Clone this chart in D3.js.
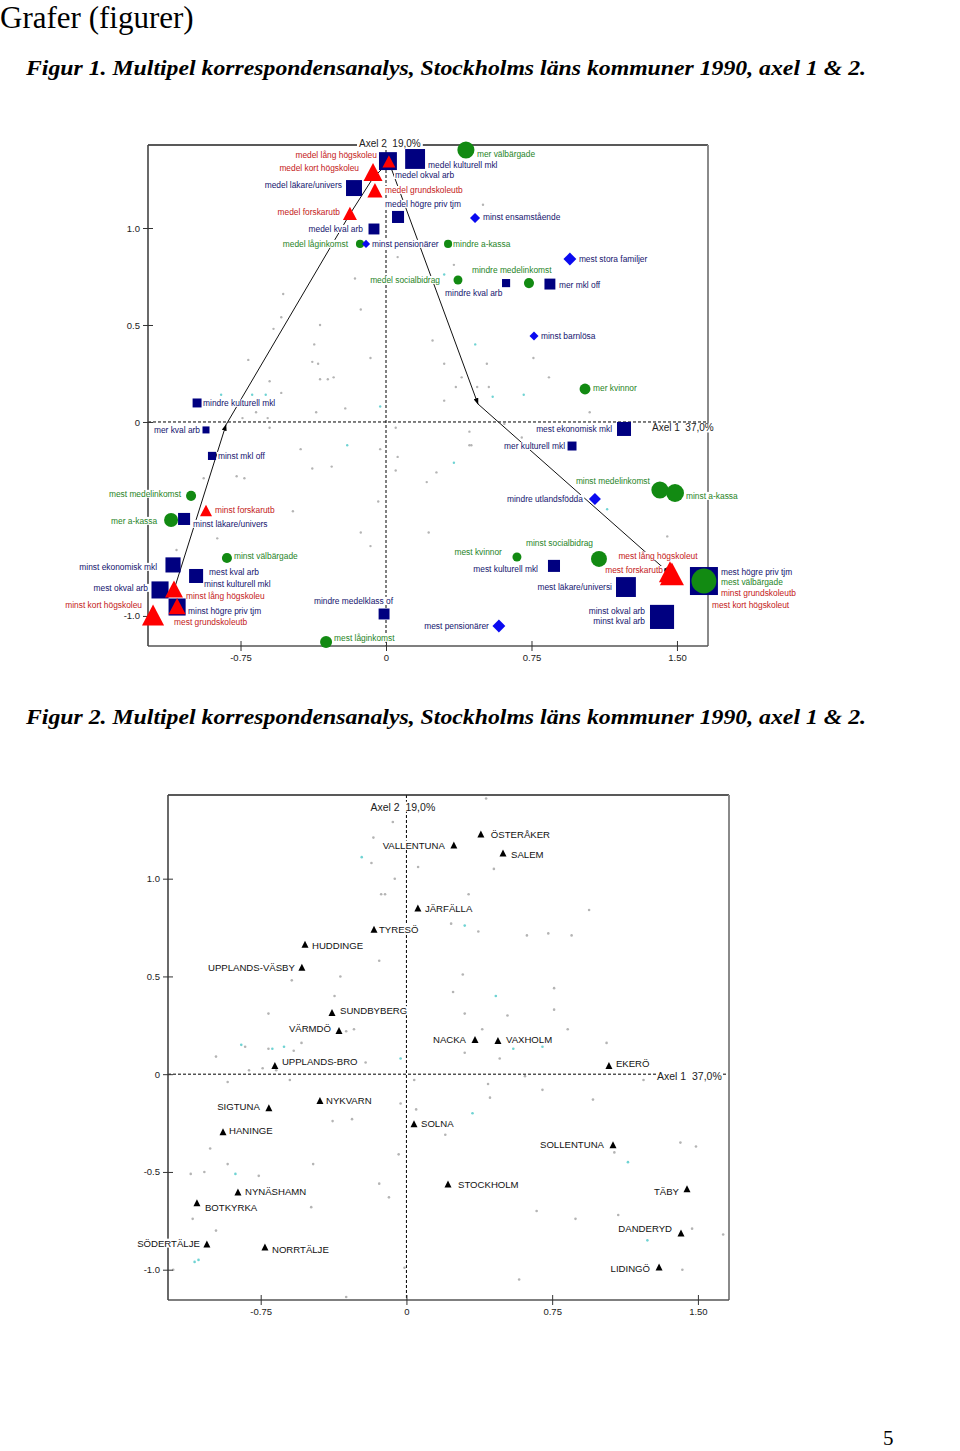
<!DOCTYPE html>
<html><head><meta charset="utf-8">
<script src="https://cdn.jsdelivr.net/npm/d3@7"></script>
<style>body{margin:0;background:#fff}svg{display:block}</style>
</head><body>
<svg id="page" width="960" height="1451"></svg>
<script>
// ---------------- DATA ----------------
const pageTitle = "Grafer (figurer)";
const captions = [
  "Figur 1. Multipel korrespondensanalys, Stockholms läns kommuner 1990, axel 1 & 2.",
  "Figur 2. Multipel korrespondensanalys, Stockholms läns kommuner 1990, axel 1 & 2."
];
const pageNumber = "5";
const axisNames = ["Axel 1  37,0%", "Axel 2  19,0%"];

const xTicks = [-0.75, 0, 0.75, 1.5];
const xTickLabels = ["-0.75", "0", "0.75", "1.50"];
const fig1YTicks = [1.0, 0.5, 0, -0.5, -1.0];
const fig1YTickLabels = ["1.0", "0.5", "0", "", "-1.0"];
const fig2YTicks = [1.0, 0.5, 0, -0.5, -1.0];
const fig2YTickLabels = ["1.0", "0.5", "0", "-0.5", "-1.0"];

// Figure 1: modalities (axis-1 coord, axis-2 coord, relative mass)
const fig1Squares = [
  {label:"medel okval arb", x:0.01, y:1.345, mass:0.64},
  {label:"medel kulturell mkl", x:0.15, y:1.356, mass:0.71},
  {label:"medel läkare/univers", x:-0.165, y:1.206, mass:0.57},
  {label:"medel högre priv tjm", x:0.062, y:1.057, mass:0.43},
  {label:"medel kval arb", x:-0.062, y:0.995, mass:0.39},
  {label:"mindre kval arb", x:0.619, y:0.716, mass:0.29},
  {label:"mer mkl off", x:0.845, y:0.711, mass:0.39},
  {label:"mindre kulturell mkl", x:-0.974, y:0.098, mass:0.32},
  {label:"mer kval arb", x:-0.928, y:-0.041, mass:0.25},
  {label:"mest ekonomisk mkl", x:1.227, y:-0.036, mass:0.5},
  {label:"mer kulturell mkl", x:0.959, y:-0.124, mass:0.32},
  {label:"minst mkl off", x:-0.897, y:-0.175, mass:0.29},
  {label:"minst läkare/univers", x:-1.041, y:-0.5, mass:0.43},
  {label:"minst ekonomisk mkl", x:-1.098, y:-0.737, mass:0.54},
  {label:"minst kulturell mkl", x:-0.979, y:-0.794, mass:0.46},
  {label:"mest kval arb", x:-0.979, y:-0.794, mass:0.5},
  {label:"mest okval arb", x:-1.165, y:-0.866, mass:0.61},
  {label:"minst högre priv tjm", x:-1.077, y:-0.954, mass:0.61},
  {label:"mindre medelklass of", x:-0.01, y:-0.99, mass:0.39},
  {label:"mest kulturell mkl", x:0.866, y:-0.742, mass:0.43},
  {label:"mest läkare/universi", x:1.237, y:-0.851, mass:0.71},
  {label:"minst okval arb", x:1.423, y:-1.005, mass:0.86},
  {label:"minst kval arb", x:1.423, y:-1.005, mass:0.82},
  {label:"mest högre priv tjm", x:1.639, y:-0.82, mass:1.0}
];
const fig1Triangles = [
  {label:"minst grundskoleutb", x:1.639, y:-0.825, mass:1.0},
  {label:"mest kort högskoleut", x:1.639, y:-0.825, mass:0.93},
  {label:"medel lång högskoleu", x:0.015, y:1.34, mass:0.46},
  {label:"medel kort högskoleu", x:-0.067, y:1.284, mass:0.68},
  {label:"medel grundskoleutb", x:-0.057, y:1.191, mass:0.54},
  {label:"medel forskarutb", x:-0.186, y:1.072, mass:0.5},
  {label:"minst forskarutb", x:-0.928, y:-0.459, mass:0.43},
  {label:"minst lång högskoleu", x:-1.093, y:-0.866, mass:0.64},
  {label:"mest grundskoleutb", x:-1.077, y:-0.954, mass:0.61},
  {label:"minst kort högskoleu", x:-1.201, y:-1.0, mass:0.79},
  {label:"mest lång högskoleut", x:1.464, y:-0.778, mass:0.79},
  {label:"mest forskarutb", x:1.474, y:-0.789, mass:0.86}
];
const fig1Circles = [
  {label:"medel låginkomst", x:-0.134, y:0.918, mass:0.29},
  {label:"mer välbärgade", x:0.412, y:1.402, mass:0.61},
  {label:"mindre a-kassa", x:0.32, y:0.918, mass:0.29},
  {label:"mindre medelinkomst", x:0.737, y:0.716, mass:0.36},
  {label:"medel socialbidrag", x:0.371, y:0.732, mass:0.32},
  {label:"mer kvinnor", x:1.026, y:0.17, mass:0.39},
  {label:"mest medelinkomst", x:-1.005, y:-0.381, mass:0.36},
  {label:"mer a-kassa", x:-1.108, y:-0.505, mass:0.5},
  {label:"minst välbärgade", x:-0.82, y:-0.701, mass:0.36},
  {label:"mest låginkomst", x:-0.309, y:-1.134, mass:0.43},
  {label:"mest kvinnor", x:0.675, y:-0.696, mass:0.32},
  {label:"minst medelinkomst", x:1.412, y:-0.351, mass:0.61},
  {label:"minst a-kassa", x:1.49, y:-0.366, mass:0.64},
  {label:"minst socialbidrag", x:1.098, y:-0.706, mass:0.57},
  {label:"mest välbärgade", x:1.639, y:-0.82, mass:0.89}
];
const fig1Diamonds = [
  {label:"minst pensionärer", x:-0.103, y:0.918, mass:0.29},
  {label:"minst ensamstående", x:0.459, y:1.052, mass:0.36},
  {label:"mest stora familjer", x:0.948, y:0.84, mass:0.46},
  {label:"minst barnlösa", x:0.763, y:0.443, mass:0.32},
  {label:"mindre utlandsfödda", x:1.077, y:-0.397, mass:0.43},
  {label:"mest pensionärer", x:0.582, y:-1.052, mass:0.46}
];
// trajectories (education), each segment ends in an arrow
const fig1TrajectoryLeft = [[-1.093,-0.866],[-0.825,-0.015],[-0.186,1.072],[-0.067,1.258],[0.015,1.34]];
const fig1TrajectoryRight = [[0.015,1.34],[0.474,0.093],[1.459,-0.778]];
const fig1ArrowAt = [[1],[4],[1],[2]]; // vertex indices carrying arrow heads

// Figure 1: supplementary (municipality) points
const fig1GrayDots = [[0.06,0.85],[0.35,0.81],[-0.16,0.74],[-0.53,0.66],[-0.13,0.58],[-0.54,0.54],[-0.34,0.50],
  [-0.58,0.48],[0.24,0.42],[-0.37,0.40],[-0.08,0.33],[0.30,0.30],[0.52,0.30],[-0.71,0.32],[-0.38,0.31],[-0.35,0.30],
  [0.39,0.23],[-0.30,0.22],[-0.34,0.22],[-0.27,0.23],[-0.60,0.21],[0.30,0.11],[0.36,0.18],[0.47,0.18],[0.53,0.18],
  [-0.54,0.15],[-0.67,0.05],[-0.36,0.05],[-0.61,0.02],[-0.74,0.02],[-0.21,0.07],[0.05,-0.03],[-0.60,-0.03],
  [0.43,-0.05],[0.43,-0.12],[-0.44,-0.14],[0.76,0.33],[0.84,0.23],[1.05,0.05],[0.61,-0.01],[0.70,-0.08],
  [-0.03,-0.14],[0.06,-0.18],[0.44,-0.12],[-0.38,-0.24],[-0.28,-0.23],[0.05,-0.25],[0.26,-0.26],[-0.94,-0.29],
  [-0.77,-0.28],[-0.73,-0.29],[0.21,-0.31],[-0.04,-0.41],[-0.48,-0.46],[-0.13,-0.57],[0.22,-0.57],[-0.87,-0.60],
  [-0.08,-0.64],[-1.08,-0.66],[1.45,-0.59],[0.50,1.12]];
const fig1CyanDots = [[0.30,0.76],[0.46,0.40],[0.55,0.13],[-0.85,0.14],[-0.69,0.14],[-0.62,0.14],[-0.03,0.08],
  [-0.20,-0.12],[0.71,0.14],[0.35,-0.21],[1.14,-0.45]];

// Figure 2: municipalities (axis-1, axis-2)
const fig2Munis = [
  {name:"VALLENTUNA", x:0.244, y:1.171},
  {name:"ÖSTERÅKER", x:0.383, y:1.227},
  {name:"SALEM", x:0.497, y:1.130},
  {name:"JÄRFÄLLA", x:0.059, y:0.848},
  {name:"TYRESÖ", x:-0.167, y:0.740},
  {name:"HUDDINGE", x:-0.522, y:0.663},
  {name:"UPPLANDS-VÄSBY", x:-0.538, y:0.545},
  {name:"SUNDBYBERG", x:-0.383, y:0.314},
  {name:"VÄRMDÖ", x:-0.347, y:0.222},
  {name:"UPPLANDS-BRO", x:-0.677, y:0.043},
  {name:"NACKA", x:0.353, y:0.176},
  {name:"VAXHOLM", x:0.471, y:0.171},
  {name:"EKERÖ", x:1.042, y:0.043},
  {name:"SIGTUNA", x:-0.708, y:-0.173},
  {name:"NYKVARN", x:-0.445, y:-0.137},
  {name:"HANINGE", x:-0.944, y:-0.296},
  {name:"SOLNA", x:0.039, y:-0.255},
  {name:"SOLLENTUNA", x:1.063, y:-0.363},
  {name:"STOCKHOLM", x:0.214, y:-0.563},
  {name:"NYNÄSHAMN", x:-0.867, y:-0.604},
  {name:"BOTKYRKA", x:-1.078, y:-0.660},
  {name:"TÄBY", x:1.444, y:-0.588},
  {name:"DANDERYD", x:1.413, y:-0.814},
  {name:"SÖDERTÄLJE", x:-1.027, y:-0.870},
  {name:"NORRTÄLJE", x:-0.728, y:-0.886},
  {name:"LIDINGÖ", x:1.300, y:-0.988}
];
const fig2GrayDots = [[-0.07,1.29],[-0.17,1.21],[-0.18,1.08],[0.06,1.06],[-0.06,1.00],[-0.13,0.92],[-0.11,0.92],
  [-0.14,0.58],[-0.34,0.50],[-0.59,0.48],[0.41,1.41],[0.45,1.05],[0.32,0.92],[0.94,0.84],[0.23,0.77],[0.37,0.73],
  [0.62,0.71],[0.73,0.72],[0.85,0.71],[0.29,0.51],[-0.37,0.40],[-0.71,0.31],[-0.83,0.14],[-0.71,0.13],[-0.58,0.12],
  [-0.54,0.16],[-0.98,0.09],[-0.31,0.22],[-0.27,0.23],[-0.21,0.06],[-0.81,0.02],[-0.74,0.03],[-0.67,0.02],
  [-0.60,-0.03],[-0.92,-0.04],[-0.03,-0.15],[0.05,-0.18],[-0.38,-0.24],[-0.28,-0.23],[0.20,-0.31],[-1.01,-0.38],
  [-0.92,-0.46],[-1.11,-0.51],[-1.04,-0.50],[-0.76,-0.52],[-0.48,-0.46],[-0.04,-0.41],[-0.14,-0.56],[-0.09,-0.63],
  [-0.49,-0.68],[-1.10,-0.74],[-0.98,-0.80],[-1.20,-1.00],[-0.01,-0.99],[-0.31,-1.14],[0.24,0.42],[0.76,0.44],
  [0.30,0.31],[0.52,0.30],[0.76,0.33],[0.39,0.23],[0.83,0.23],[1.03,0.16],[0.30,0.11],[0.48,0.08],[0.61,-0.01],
  [1.22,-0.03],[0.04,-0.03],[0.42,-0.05],[0.70,-0.08],[0.43,-0.12],[0.96,-0.13],[1.07,-0.40],[1.41,-0.35],
  [1.49,-0.37],[0.67,-0.70],[0.87,-0.74],[1.09,-0.72],[1.47,-0.79],[1.63,-0.82],[1.42,-1.00],[0.58,-1.05]];
const fig2CyanDots = [[-0.23,1.11],[0.30,0.76],[-0.85,0.15],[-0.69,0.13],[-0.63,0.14],[-0.03,0.08],[-0.88,-0.51],
  [-1.09,-0.96],[-1.07,-0.95],[0.46,0.40],[0.55,0.13],[0.70,0.14],[0.34,-0.20],[1.14,-0.45],[1.24,-0.85]];

// ---------------- LAYOUT (label offsets in px: dx, dy, anchor) ----------------
const fig1LabelPos = {
  "medel okval arb":[7,14,"start"], "medel kulturell mkl":[13,6,"start"], "medel läkare/univers":[-12,-3,"end"],
  "medel högre priv tjm":[-13,-13,"start"], "medel kval arb":[-11,0,"end"], "mindre kval arb":[-61,10,"start"],
  "mer mkl off":[9,1,"start"], "mindre kulturell mkl":[6,0,"start"], "mer kval arb":[-6,0,"end"],
  "mest ekonomisk mkl":[-12,0,"end"], "mer kulturell mkl":[-7,0,"end"], "minst mkl off":[6,0,"start"],
  "minst läkare/univers":[9,5,"start"], "minst ekonomisk mkl":[-16,2,"end"], "mest kval arb":[13,-4,"start"],
  "minst kulturell mkl":[8,8,"start"], "mest okval arb":[-12,-2,"end"], "minst högre priv tjm":[11,4,"start"],
  "mindre medelklass of":[9,-13,"end"], "mest kulturell mkl":[-16,3,"end"], "mest läkare/universi":[-14,0,"end"],
  "minst okval arb":[-17,-6,"end"], "minst kval arb":[-17,4,"end"], "mest högre priv tjm":[17,-9,"start"],
  "medel lång högskoleu":[-12,-7,"end"], "medel kort högskoleu":[-14,-5,"end"], "medel grundskoleutb":[10,-1,"start"],
  "medel forskarutb":[-10,-2,"end"], "minst forskarutb":[9,-1,"start"], "minst lång högskoleu":[12,6,"start"],
  "mest grundskoleutb":[-3,15,"start"], "minst kort högskoleu":[-11,-11,"end"], "mest forskarutb":[-9,-5,"end"],
  "mest lång högskoleut":[-12,-17,"middle"], "minst grundskoleutb":[17,11,"start"], "mest kort högskoleut":[8,23,"start"],
  "medel låginkomst":[-12,0,"end"], "mer välbärgade":[11,4,"start"], "mindre a-kassa":[5,0,"start"],
  "mindre medelinkomst":[-57,-13,"start"], "medel socialbidrag":[-18,0,"end"], "mer kvinnor":[8,-1,"start"],
  "mest medelinkomst":[-10,-2,"end"], "mer a-kassa":[-14,1,"end"], "minst välbärgade":[7,-2,"start"],
  "mest låginkomst":[8,-4,"start"], "mest kvinnor":[-15,-5,"end"], "minst medelinkomst":[-10,-9,"end"],
  "minst a-kassa":[11,3,"start"], "minst socialbidrag":[-6,-16,"end"], "mest välbärgade":[17,1,"start"],
  "minst pensionärer":[6,0,"start"], "minst ensamstående":[8,-1,"start"], "mest stora familjer":[9,0,"start"],
  "minst barnlösa":[7,0,"start"], "mindre utlandsfödda":[-12,0,"end"], "mest pensionärer":[-10,0,"end"]
};
const fig2LabelPos = {
  "VALLENTUNA":[-9,0,"end"], "ÖSTERÅKER":[10,0,"start"], "SALEM":[8,1,"start"], "JÄRFÄLLA":[7,0,"start"],
  "TYRESÖ":[5,0,"start"], "HUDDINGE":[7,1,"start"], "UPPLANDS-VÄSBY":[-7,0,"end"], "SUNDBYBERG":[8,-2,"start"],
  "VÄRMDÖ":[-8,-2,"end"], "UPPLANDS-BRO":[7,-4,"start"], "NACKA":[-9,0,"end"], "VAXHOLM":[8,-1,"start"],
  "EKERÖ":[7,-2,"start"], "SIGTUNA":[-9,-1,"end"], "NYKVARN":[6,0,"start"], "HANINGE":[6,-1,"start"],
  "SOLNA":[7,0,"start"], "SOLLENTUNA":[-9,-1,"end"], "STOCKHOLM":[10,0,"start"], "NYNÄSHAMN":[7,-1,"start"],
  "BOTKYRKA":[8,4,"start"], "TÄBY":[-8,2,"end"], "DANDERYD":[-9,-5,"end"], "SÖDERTÄLJE":[-7,-1,"end"],
  "NORRTÄLJE":[7,2,"start"], "LIDINGÖ":[-9,1,"end"]
};

// ---------------- DRAWING ----------------
const SANS = "'Liberation Sans', Arial, Helvetica, sans-serif";
const SERIF = "'Liberation Serif', 'Times New Roman', serif";
const svg = d3.select("#page");
const xDomain = [-1.227, 1.66];
const yDomain = [-1.155, 1.428];
const frames = [
  {left:148, right:708, top:145, bottom:646},
  {left:168, right:729, top:795, bottom:1300}
];

svg.append("text").attr("x", 0).attr("y", 28).attr("font-family", SERIF).attr("font-size", 31).text(pageTitle);
[75, 724].forEach((yy, i) => {
  svg.append("text").attr("x", 26).attr("y", yy).attr("font-family", SERIF).attr("font-size", 22)
    .attr("font-weight", "bold").attr("font-style", "italic")
    .attr("textLength", 840).attr("lengthAdjust", "spacingAndGlyphs").text(captions[i]);
});
svg.append("text").attr("x", 883).attr("y", 1445).attr("font-family", SERIF).attr("font-size", 21).text(pageNumber);

const defs = svg.append("defs");
defs.append("marker").attr("id", "arr").attr("viewBox", "0 0 8 6").attr("refX", 7).attr("refY", 3)
  .attr("markerWidth", 7).attr("markerHeight", 5).attr("markerUnits", "userSpaceOnUse").attr("orient", "auto")
  .append("path").attr("d", "M0,0 L8,3 L0,6 Z").attr("fill", "#000");

function makeFigure(frame, yTicks, yTickLabels) {
  const x = d3.scaleLinear().domain(xDomain).range([frame.left, frame.right]);
  const y = d3.scaleLinear().domain(yDomain).range([frame.bottom, frame.top]);
  const g = svg.append("g");
  const layers = {
    dots: g.append("g"), axes: g.append("g"), bg: g.append("g"),
    marks: g.append("g"), text: g.append("g")
  };
  const A = layers.axes;
  A.append("line").attr("x1", x(0)).attr("x2", x(0)).attr("y1", frame.top).attr("y2", frame.bottom)
    .attr("stroke", "#000").attr("stroke-width", 1).attr("stroke-dasharray", "3,2");
  A.append("line").attr("x1", frame.left).attr("x2", frame.right).attr("y1", y(0)).attr("y2", y(0))
    .attr("stroke", "#000").attr("stroke-width", 1).attr("stroke-dasharray", "3,2");
  A.append("line").attr("x1", frame.left).attr("x2", frame.right).attr("y1", frame.top).attr("y2", frame.top)
    .attr("stroke", "#222").attr("stroke-width", 1.3);
  A.append("line").attr("x1", frame.right).attr("x2", frame.right).attr("y1", frame.top).attr("y2", frame.bottom)
    .attr("stroke", "#8a8a8a").attr("stroke-width", 2);
  A.append("line").attr("x1", frame.left).attr("x2", frame.right).attr("y1", frame.bottom).attr("y2", frame.bottom)
    .attr("stroke", "#555").attr("stroke-width", 1.6);
  A.append("line").attr("x1", frame.left).attr("x2", frame.left).attr("y1", frame.top).attr("y2", frame.bottom)
    .attr("stroke", "#444").attr("stroke-width", 1.6);
  const ya = A.append("g").attr("transform", `translate(${frame.left},0)`)
    .call(d3.axisLeft(y).tickValues(yTicks).tickFormat((d, i) => yTickLabels[i]).tickSize(5).tickPadding(3));
  const xa = A.append("g").attr("transform", `translate(0,${frame.bottom})`)
    .call(d3.axisBottom(x).tickValues(xTicks).tickFormat((d, i) => xTickLabels[i]).tickSize(5).tickPadding(3));
  [ya, xa].forEach(a => {
    a.select(".domain").remove();
    a.selectAll("text").attr("font-family", SANS).attr("font-size", 9.5).attr("fill", "#222");
    a.selectAll("line").attr("stroke", "#333");
  });
  ya.selectAll(".tick line").attr("x1", 5);
  xa.selectAll(".tick line").attr("y1", -5);
  ya.selectAll(".tick").filter((d, i) => yTickLabels[i] === "").remove();
  return {x, y, g, layers};
}

function addLabel(fig, text, px, py, pos, color, size, bgPad) {
  const t = fig.layers.text.append("text").attr("x", px + pos[0]).attr("y", py + pos[1]).attr("dy", "0.35em")
    .attr("text-anchor", pos[2]).attr("font-family", SANS).attr("font-size", size).attr("fill", color)
    .style("white-space", "pre").text(text);
  const b = t.node().getBBox();
  fig.layers.bg.append("rect").attr("x", b.x - bgPad).attr("y", b.y + 1).attr("width", b.width + 2 * bgPad)
    .attr("height", b.height - 2).attr("fill", "#fff");
}

function drawDots(fig, gray, cyan, r) {
  fig.layers.dots.selectAll("circle.g").data(gray).join("circle").attr("class", "g")
    .attr("cx", d => fig.x(d[0])).attr("cy", d => fig.y(d[1])).attr("r", r).attr("fill", "#b4b4b4");
  fig.layers.dots.selectAll("circle.c").data(cyan).join("circle").attr("class", "c")
    .attr("cx", d => fig.x(d[0])).attr("cy", d => fig.y(d[1])).attr("r", r).attr("fill", "#6fd3d3");
}

// ---------- Figure 1 ----------
const f1 = makeFigure(frames[0], fig1YTicks, fig1YTickLabels);
drawDots(f1, fig1GrayDots, fig1CyanDots, 1.2);
const size = d3.scaleLinear().domain([0, 1]).range([0, 28]);
const COLORS = {
  sq: {fill:"#000080", text:"#14146e"}, tri: {fill:"#ff0000", text:"#c42020"},
  circ: {fill:"#128a12", text:"#1f841f"}, dia: {fill:"#0a0af0", text:"#14146e"}
};
const lineGen = d3.line().x(d => f1.x(d[0])).y(d => f1.y(d[1]));
function drawTraj(pts, arrowIdx) {
  let start = 0;
  arrowIdx.forEach(end => {
    f1.layers.axes.append("path").attr("d", lineGen(pts.slice(start, end + 1))).attr("fill", "none")
      .attr("stroke", "#111").attr("stroke-width", 1).attr("marker-end", "url(#arr)");
    start = end;
  });
}
drawTraj(fig1TrajectoryLeft, [fig1ArrowAt[0][0], fig1ArrowAt[1][0]]);
drawTraj(fig1TrajectoryRight, [fig1ArrowAt[2][0], fig1ArrowAt[3][0]]);

function drawSquare(d) {
  const s = size(d.mass);
  f1.layers.marks.append("rect").attr("x", f1.x(d.x) - s / 2).attr("y", f1.y(d.y) - s / 2)
    .attr("width", s).attr("height", s).attr("fill", COLORS.sq.fill);
}
function drawTri(d) {
  const s = size(d.mass), cx = f1.x(d.x), cy = f1.y(d.y), h = s * 0.95;
  f1.layers.marks.append("path").attr("d", `M${cx},${cy - h * 0.55} L${cx + s / 2},${cy + h * 0.45} L${cx - s / 2},${cy + h * 0.45} Z`)
    .attr("fill", COLORS.tri.fill);
}
function drawCirc(d) {
  f1.layers.marks.append("circle").attr("cx", f1.x(d.x)).attr("cy", f1.y(d.y)).attr("r", size(d.mass) / 2)
    .attr("fill", COLORS.circ.fill);
}
function drawDia(d) {
  const s = size(d.mass) / 2, cx = f1.x(d.x), cy = f1.y(d.y);
  f1.layers.marks.append("path").attr("d", `M${cx},${cy - s} L${cx + s},${cy} L${cx},${cy + s} L${cx - s},${cy} Z`)
    .attr("fill", COLORS.dia.fill);
}
const underTri = fig1Triangles.slice(0, 2), overTri = fig1Triangles.slice(2);
underTri.forEach(drawTri);
fig1Squares.forEach(drawSquare);
overTri.forEach(drawTri);
fig1Circles.forEach(drawCirc);
fig1Diamonds.forEach(drawDia);
[[fig1Squares, "sq"], [fig1Triangles, "tri"], [fig1Circles, "circ"], [fig1Diamonds, "dia"]].forEach(([arr, type]) => {
  arr.forEach(d => addLabel(f1, d.label, f1.x(d.x), f1.y(d.y), fig1LabelPos[d.label], COLORS[type].text, 8.4, 1));
});
addLabel(f1, axisNames[1], f1.x(0) - 27, frames[0].top - 2, [0, 0, "start"], "#222", 10, 2);
addLabel(f1, axisNames[0], frames[0].right - 56, f1.y(0) + 6, [0, 0, "start"], "#222", 10, 2);

// ---------- Figure 2 ----------
const f2 = makeFigure(frames[1], fig2YTicks, fig2YTickLabels);
drawDots(f2, fig2GrayDots, fig2CyanDots, 1.3);
fig2Munis.forEach(d => {
  const cx = f2.x(d.x), cy = f2.y(d.y), s = 7;
  f2.layers.marks.append("path").attr("d", `M${cx},${cy - s * 0.55} L${cx + s / 2},${cy + s * 0.45} L${cx - s / 2},${cy + s * 0.45} Z`)
    .attr("fill", "#000");
  addLabel(f2, d.name, cx, cy, fig2LabelPos[d.name], "#111", 9.6, 1);
});
addLabel(f2, axisNames[1], f2.x(0) - 36, frames[1].top + 12, [0, 0, "start"], "#222", 10.5, 1);
addLabel(f2, axisNames[0], frames[1].right - 72, f2.y(0) + 2, [0, 0, "start"], "#222", 10.5, 1);
</script>
</body></html>
